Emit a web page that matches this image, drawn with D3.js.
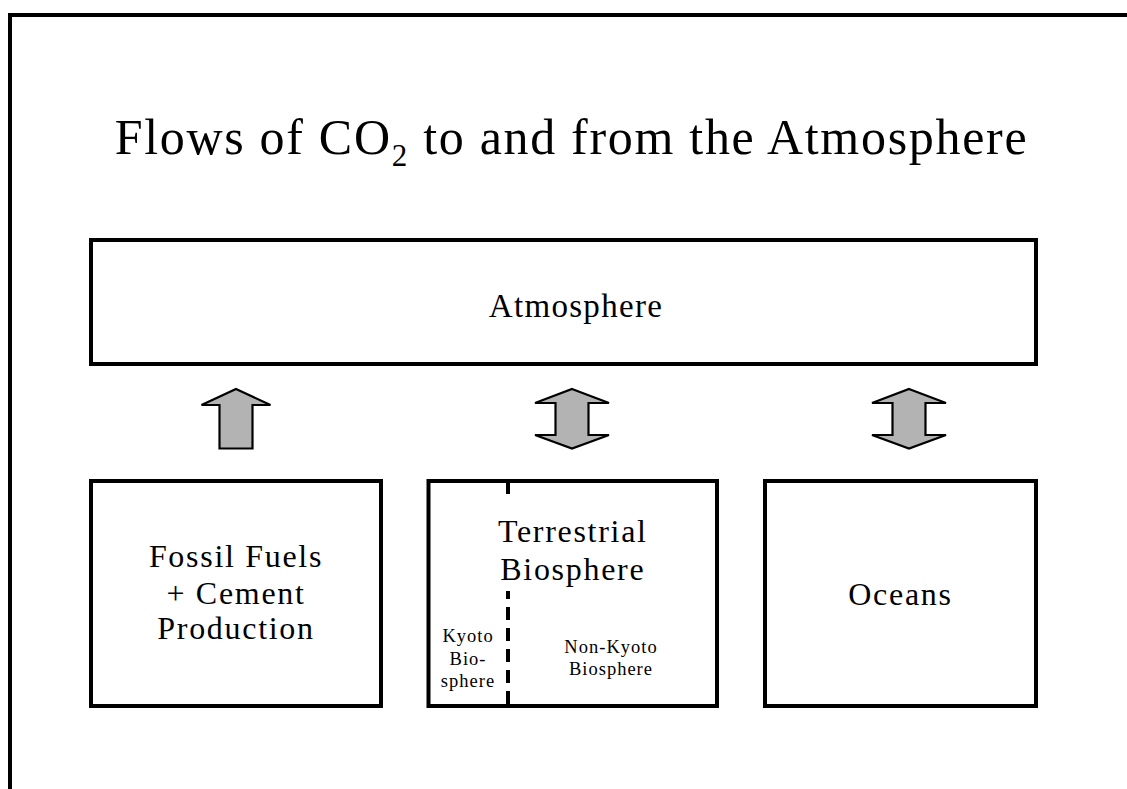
<!DOCTYPE html>
<html>
<head>
<meta charset="utf-8">
<script src="https://cdn.jsdelivr.net/npm/d3@7"></script>
<style>
  html, body { margin: 0; padding: 0; background: #fff; }
  svg { display: block; }
  text { font-family: "Liberation Serif", "Times New Roman", serif; fill: #000; }
</style>
</head>
<body>
<svg id="chart" width="1127" height="789"></svg>
<script>
// ---- content ----
const titleParts = ["Flows of CO", "2", " to and from the Atmosphere"];
const topBoxLabel = ["Atmosphere"];
const reservoirs = ["Fossil Fuels + Cement Production", "Terrestrial Biosphere", "Oceans"];
const reservoirLines = [["Fossil Fuels", "+ Cement", "Production"], ["Terrestrial", "Biosphere"], ["Oceans"]];
const flowDirections = ["up", "both", "both"];
const subdivisionLabels = [["Kyoto", "Bio-", "sphere"], ["Non-Kyoto", "Biosphere"]];

// ---- layout ----
const svg = d3.select("#chart");
const W = 1127, H = 789;

const boxWidths = [290, 288.5, 271];
const boxLeft = [91, 428.5, 765];

// outer frame (extends beyond view on right/bottom)
svg.append("path")
  .attr("d", `M10,${H + 10} L10,15 L${W + 10},15`)
  .attr("fill", "none").attr("stroke", "#000").attr("stroke-width", 4);

// title
const title = svg.append("text")
  .attr("x", 571.5).attr("y", 154)
  .attr("text-anchor", "middle")
  .style("font-size", "50px").style("letter-spacing", "1.7px");
title.append("tspan").text(titleParts[0]);
title.append("tspan").attr("dy", 12).style("font-size", "31px").text(titleParts[1]);
title.append("tspan").attr("dy", -12).text(titleParts[2]);

// atmosphere box
svg.append("rect")
  .attr("x", 91).attr("y", 240).attr("width", 945).attr("height", 124)
  .attr("fill", "#fff").attr("stroke", "#000").attr("stroke-width", 4);
svg.append("text")
  .attr("x", 576).attr("y", 317).attr("text-anchor", "middle")
  .style("font-size", "33px").style("letter-spacing", "1.3px")
  .text(topBoxLabel[0]);

// reservoir boxes
const boxTop = 481, boxBottom = 706;
const g = svg.selectAll("g.res").data(reservoirs).join("g").attr("class", "res");
g.append("rect")
  .attr("x", (d, i) => boxLeft[i]).attr("y", boxTop)
  .attr("width", (d, i) => boxWidths[i]).attr("height", boxBottom - boxTop)
  .attr("fill", "#fff").attr("stroke", "#000").attr("stroke-width", 4);

// terrestrial dashed divider
const divX = 508;
svg.append("line")
  .attr("x1", divX).attr("x2", divX).attr("y1", boxTop).attr("y2", boxBottom)
  .attr("stroke", "#000").attr("stroke-width", 4).attr("stroke-dasharray", "13,8");
svg.append("rect")
  .attr("x", 494).attr("y", 495).attr("width", 160).attr("height", 96).attr("fill", "#fff");

// reservoir labels
const baselines = [[567, 604, 639], [542, 580], [605]];
const centers = [236, 572.8, 900.5];
reservoirLines.forEach((lines, i) => {
  const t = svg.append("text").attr("text-anchor", "middle")
    .style("font-size", "32px").style("letter-spacing", "1.7px");
  lines.forEach((ln, j) => {
    t.append("tspan").attr("x", centers[i]).attr("y", baselines[i][j]).text(ln);
  });
});

// sub labels
const subCenters = [468, 611];
const subBaselines = [[642, 665, 687], [653, 675]];
subdivisionLabels.forEach((lines, i) => {
  const t = svg.append("text").attr("text-anchor", "middle")
    .style("font-size", "18.5px").style("letter-spacing", "1px");
  lines.forEach((ln, j) => {
    t.append("tspan").attr("x", subCenters[i]).attr("y", subBaselines[i][j]).text(ln);
  });
});

// flow arrows
function arrowPath(cx, dir) {
  const tip = 389, bot = 448.5;
  if (dir === "up") {
    const hw = 34.5, sw = 16.5, hb = 405;
    return `M${cx},${tip} L${cx + hw},${hb} L${cx + sw},${hb} L${cx + sw},${bot} L${cx - sw},${bot} L${cx - sw},${hb} L${cx - hw},${hb} Z`;
  }
  const hw = 37, sw = 16.5, hb1 = 403, hb2 = 435;
  return `M${cx},${tip} L${cx + hw},${hb1} L${cx + sw},${hb1} L${cx + sw},${hb2} L${cx + hw},${hb2} L${cx},${bot} L${cx - hw},${hb2} L${cx - sw},${hb2} L${cx - sw},${hb1} L${cx - hw},${hb1} Z`;
}
const arrowCenters = [236, 572, 909];
svg.selectAll("path.flow").data(flowDirections).join("path").attr("class", "flow")
  .attr("d", (d, i) => arrowPath(arrowCenters[i], d))
  .attr("fill", "#b3b3b3").attr("stroke", "#000").attr("stroke-width", 2.2).attr("stroke-linejoin", "miter");
</script>
</body>
</html>
